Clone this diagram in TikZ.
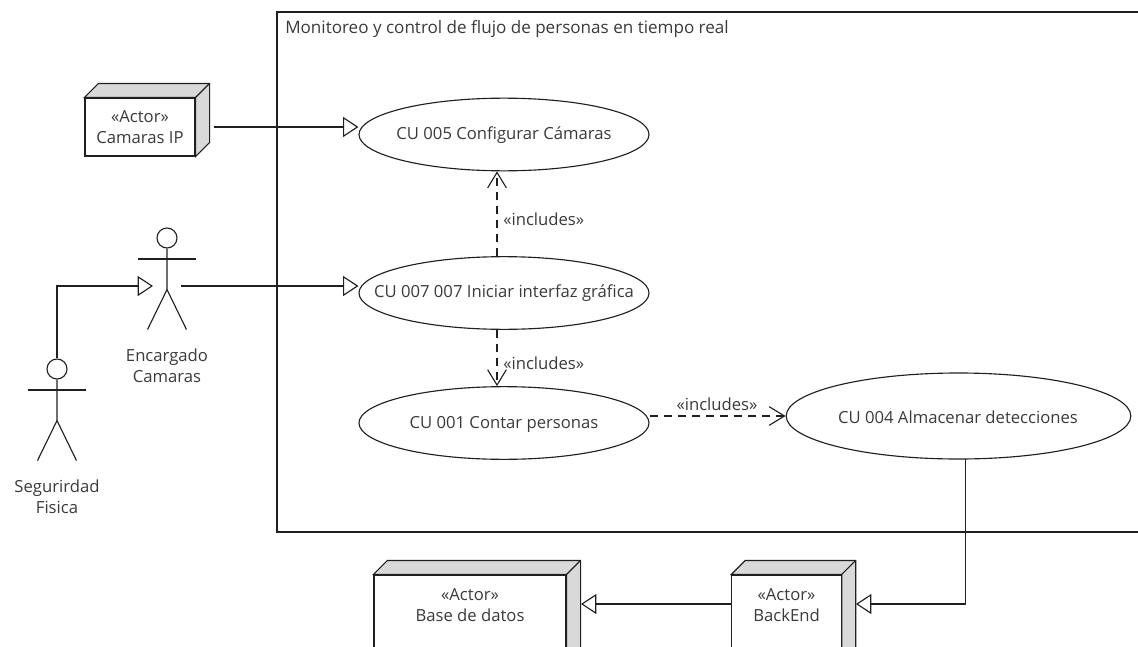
\documentclass[tikz,border=0pt]{standalone}
\usepackage{fontspec}
\setmainfont{Open Sans}
\usetikzlibrary{shapes.geometric,arrows.meta}
\definecolor{ink}{HTML}{202020}
\definecolor{txt}{HTML}{3A3A3A}
\definecolor{side}{HTML}{D9D9D9}
\newcommand{\tfont}{\fontsize{12.5}{15.75}\selectfont}
\tikzset{
  ln/.style={draw=ink,line width=0.85pt},
  uc/.style={ln,ellipse,inner sep=0pt,minimum width=217.5pt,minimum height=54.5pt},
  lbl/.style={text=txt,font=\tfont,align=center,inner sep=0pt},
  front/.style={ln,fill=white,inner sep=0pt,text=txt,font=\tfont,align=center},
  tri/.style={ln,-{Triangle[open,fill=white,length=11.5pt,width=15pt,line width=0.85pt]}},
  dep/.style={ln,dash pattern=on 6pt off 4.5pt,-{Straight Barb[length=11.5pt,width=14pt,line width=0.85pt]}},
}
\newcommand{\boxthree}[1]{%
  \path[ln,fill=side] (#1.north west) -- ++(10.5pt,10.5pt) -- ([shift={(10.5pt,10.5pt)}]#1.north east) -- ([shift={(10.5pt,10.5pt)}]#1.south east) -- (#1.south east) -- (#1.north east) -- cycle;
  \draw[ln] (#1.north east) -- ++(10.5pt,10.5pt);}
\newcommand{\stick}[2]{% name, centre of head
  \node[ln,circle,inner sep=0pt,minimum size=15pt] (#1) at (#2) {};
  \draw[ln] (#1.south) -- ++(0,41) coordinate (#1hip) -- ++(-19.5,40);
  \draw[ln] (#1hip) -- ++(19.5,40);
  \draw[ln] ([shift={(-29,21)}]#1.center) -- ++(58,0);}
\begin{document}
\begin{tikzpicture}[x=0.75pt,y=-0.75pt]
\useasboundingbox (0,0) rectangle (1138,646);
\begin{scope}
\clip (0,0) rectangle (1138,646);
\draw[ln] (277,12) rectangle (1160,532);
\node[lbl,anchor=west,font=\fontsize{12.8}{15.75}\selectfont] (title) at (285,29) {Monitoreo y control de flujo de personas en tiempo real};
% use cases
\node[uc] (cu5) at (504,134.5) {};
\node[lbl] (cu5t) at (504,135) {CU 005 Configurar Cámaras};
\node[uc] (cu7) at (504,293) {};
\node[lbl] (cu7t) at (504,293.5) {CU 007 007 Iniciar interfaz gráfica};
\node[uc] (cu1) at (504,423) {};
\node[lbl] (cu1t) at (504,424) {CU 001 Contar personas};
\node[uc,minimum width=258.5pt,minimum height=64.5pt] (cu4) at (958.5,416) {};
\node[lbl] (cu4t) at (958,417) {CU 004 Almacenar detecciones};
% boxes
\node[front,minimum width=82.5pt,minimum height=43.5pt] (cam) at (140,127) {«Actor»\\Camaras IP};
\boxthree{cam}
\node[front,minimum width=144pt,minimum height=90pt] (db) at (470,635) {};
\boxthree{db}
\node[lbl] (dbt) at (470,605) {«Actor»\\Base de datos};
\node[front,minimum width=82pt,minimum height=90pt] (be) at (786.5,635) {};
\boxthree{be}
\node[lbl] (bet) at (786.5,605) {«Actor»\\BackEnd};
% actors
\stick{enc}{167,238}
\node[lbl] (enclbl) at (167,365.5) {Encargado\\Camaras};
\stick{seg}{57,369}
\node[lbl] (seglbl) at (57,496.5) {Segurirdad\\Fisica};
% connectors
\coordinate (camout) at (214,127);
\coordinate (encout) at (181,286);
\coordinate (encin) at (153,286);
\coordinate (bein) at (856,604);
\coordinate (dbin) at (581,604);
\coordinate (beout) at (be.west |- dbin);
\coordinate (cu4out) at (965.5,459);
\coordinate (cu1out) at (650,416);
\draw[tri] (camout) -- (camout -| cu5.west);
\draw[tri] (encout) -- (encout -| cu7.west);
\draw[tri] (seg.north) |- (encin);
\draw[dep] (cu7.north -| 497,0) -- (cu5.south -| 497,0);
\draw[dep] (cu7.south -| 497,0) -- (cu1.north -| 497,0);
\draw[dep] (cu1out) -- (cu4.west);
\node[lbl,anchor=west] (i1) at (503,219.5) {«includes»};
\node[lbl,anchor=west] (i2) at (503,363.5) {«includes»};
\node[lbl] (i3) at (717,404.5) {«includes»};
\draw[tri] (cu4out) |- (bein);
\draw[tri] (beout) -- (dbin);
\end{scope}
\end{tikzpicture}
\end{document}
